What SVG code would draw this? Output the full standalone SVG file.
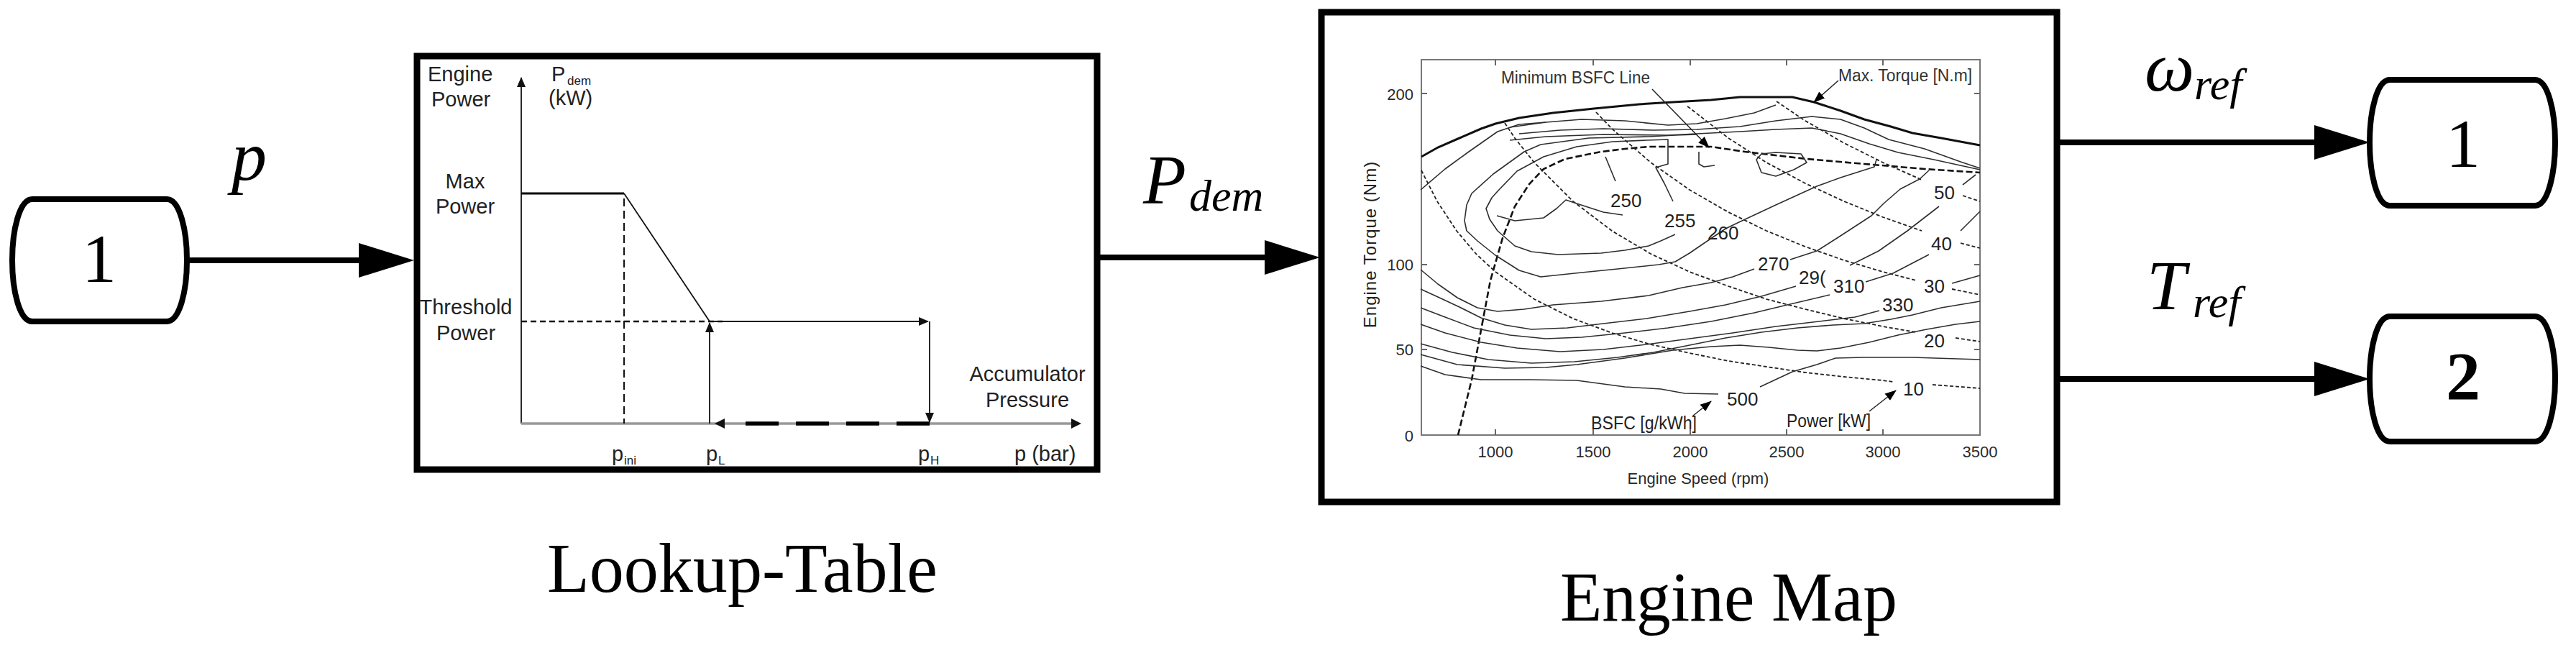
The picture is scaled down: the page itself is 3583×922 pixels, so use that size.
<svg xmlns="http://www.w3.org/2000/svg" width="3583" height="922" viewBox="0 0 3583 922">
<defs>
<style>
.blk{fill:#fff;stroke:#000;stroke-width:9}
.port{fill:#fff;stroke:#000;stroke-width:8}
.conn{stroke:#000;stroke-width:8;fill:none}
.ser{font-family:"Liberation Serif","Times New Roman",serif;fill:#000}
.it{font-style:italic}
.san{font-family:"Liberation Sans",Arial,sans-serif;fill:#222}
.lt{font-size:29px}
.ch{font-size:22px;fill:#2a2a2a}
.cl{font-size:26px;fill:#222}
.an{font-size:23px;fill:#333}
.ctr{fill:none;stroke:#2e2e2e;stroke-width:1.6;stroke-linejoin:round}
.pw{fill:none;stroke:#222;stroke-width:1.8;stroke-dasharray:5 3}
.thin{fill:none;stroke:#111;stroke-width:1.8}
</style>
<marker id="big" markerUnits="userSpaceOnUse" markerWidth="78" markerHeight="50" refX="0" refY="25" orient="auto">
<path d="M0,1 L77,25 L0,49 z" fill="#000"/>
</marker>
<marker id="sm" markerUnits="userSpaceOnUse" markerWidth="16" markerHeight="14" refX="15" refY="7" orient="auto">
<path d="M0,1 L16,7 L0,13 z" fill="#000"/>
</marker>
<marker id="ch" markerUnits="userSpaceOnUse" markerWidth="14" markerHeight="12" refX="13" refY="6" orient="auto">
<path d="M0,0 L14,6 L0,12 z" fill="#111"/>
</marker>
</defs>
<rect width="3583" height="922" fill="#fff"/>

<g id="connectors">
<line class="conn" x1="260" y1="362" x2="499" y2="362" marker-end="url(#big)"/>
<line class="conn" x1="1526" y1="358" x2="1759" y2="358" marker-end="url(#big)"/>
<line class="conn" x1="2862" y1="198" x2="3219" y2="198" marker-end="url(#big)"/>
<line class="conn" x1="2862" y1="527" x2="3219" y2="527" marker-end="url(#big)"/>
<text class="ser it" x="322" y="250" font-size="98">p</text>
<text class="ser it" x="1590" y="283" font-size="98">P<tspan x="1654" y="293" font-size="62">dem</tspan></text>
<text class="ser it" x="2983" y="126" font-size="98">ω<tspan x="3052" y="138" font-size="62">ref</tspan></text>
<text class="ser it" x="2986" y="430" font-size="98">T<tspan x="3050" y="441" font-size="62">ref</tspan></text>
</g>

<g id="in1">
<path class="port" d="M45,277 H232 C250,277 260,320 260,362 C260,404 250,447 232,447 H45 C27,447 17,404 17,362 C17,320 27,277 45,277 Z"/>
<text class="ser" x="138" y="392" font-size="96" text-anchor="middle">1</text>
</g>

<g id="out1">
<path class="port" d="M3324,111 H3526 C3544,111 3554,155 3554,198 C3554,241 3544,286 3526,286 H3324 C3306,286 3296,241 3296,198 C3296,155 3306,111 3324,111 Z"/>
<text class="ser" x="3426" y="232" font-size="96" text-anchor="middle">1</text>
</g>

<g id="out2">
<path class="port" d="M3324,440 H3526 C3544,440 3554,484 3554,527 C3554,570 3544,614 3526,614 H3324 C3306,614 3296,570 3296,527 C3296,484 3306,440 3324,440 Z"/>
<text class="ser" x="3426" y="556" font-size="96" font-weight="bold" text-anchor="middle">2</text>
</g>

<g id="lookup-table">
<rect class="blk" x="580" y="78" width="946" height="575"/>
<line x1="725" y1="589" x2="725" y2="108" stroke="#111" stroke-width="1.8" marker-end="url(#ch)"/>
<line x1="725" y1="589" x2="1492" y2="589" stroke="#999" stroke-width="3.5"/>
<path d="M1490,582 L1504,589 L1490,596 z" fill="#111"/>
<line x1="725" y1="269" x2="868" y2="269" stroke="#000" stroke-width="2.8"/>
<line x1="868" y1="269" x2="987" y2="447" stroke="#111" stroke-width="1.8"/>
<line x1="868" y1="276" x2="868" y2="589" stroke="#111" stroke-width="2" stroke-dasharray="11 6"/>
<line x1="725" y1="447" x2="1005" y2="447" stroke="#111" stroke-width="2.6" stroke-dasharray="8 5"/>
<line x1="987" y1="447" x2="1291" y2="447" class="thin" marker-end="url(#ch)"/>
<line x1="987" y1="589" x2="987" y2="449" class="thin" marker-end="url(#ch)"/>
<line x1="1293" y1="447" x2="1293" y2="587" class="thin" marker-end="url(#ch)"/>
<line x1="1293" y1="589" x2="1030" y2="589" stroke="#000" stroke-width="5.5" stroke-dasharray="46 24"/>
<path d="M1008,582 L994,589 L1008,596 z" fill="#111"/>
<text class="san lt" x="595" y="113">Engine</text>
<text class="san lt" x="600" y="148">Power</text>
<text class="san lt" x="767" y="113">P<tspan x="789" y="118" font-size="17">dem</tspan></text>
<text class="san lt" x="763" y="146">(kW)</text>
<text class="san lt" x="647" y="262" text-anchor="middle">Max</text>
<text class="san lt" x="647" y="297" text-anchor="middle">Power</text>
<text class="san lt" x="648" y="437" text-anchor="middle">Threshold</text>
<text class="san lt" x="648" y="473" text-anchor="middle">Power</text>
<text class="san lt" x="1429" y="530" text-anchor="middle">Accumulator</text>
<text class="san lt" x="1429" y="566" text-anchor="middle">Pressure</text>
<text class="san lt" x="851" y="641">p<tspan x="868" y="646" font-size="17">ini</tspan></text>
<text class="san lt" x="982" y="641">p<tspan x="999" y="646" font-size="17">L</tspan></text>
<text class="san lt" x="1277" y="641">p<tspan x="1294" y="646" font-size="17">H</tspan></text>
<text class="san lt" x="1411" y="641">p (bar)</text>
<text class="ser" x="761" y="823" font-size="98" textLength="543" lengthAdjust="spacingAndGlyphs">Lookup-Table</text>
</g>

<g id="engine-map">
<rect class="blk" x="1838" y="17" width="1023" height="681"/>
<rect x="1977" y="83" width="777" height="522" fill="none" stroke="#777" stroke-width="2"/>
<g stroke="#666" stroke-width="2">
<line x1="1977" y1="130" x2="1985" y2="130"/><line x1="1977" y1="368" x2="1985" y2="368"/><line x1="1977" y1="486" x2="1985" y2="486"/>
<line x1="2754" y1="130" x2="2746" y2="130"/><line x1="2754" y1="368" x2="2746" y2="368"/><line x1="2754" y1="486" x2="2746" y2="486"/>
<line x1="2080" y1="605" x2="2080" y2="597"/><line x1="2216" y1="605" x2="2216" y2="597"/><line x1="2351" y1="605" x2="2351" y2="597"/><line x1="2485" y1="605" x2="2485" y2="597"/><line x1="2619" y1="605" x2="2619" y2="597"/>
<line x1="2080" y1="83" x2="2080" y2="91"/><line x1="2216" y1="83" x2="2216" y2="91"/><line x1="2351" y1="83" x2="2351" y2="91"/><line x1="2485" y1="83" x2="2485" y2="91"/><line x1="2619" y1="83" x2="2619" y2="91"/>
</g>
<text class="san ch" x="1966" y="139" text-anchor="end">200</text>
<text class="san ch" x="1966" y="376" text-anchor="end">100</text>
<text class="san ch" x="1966" y="494" text-anchor="end">50</text>
<text class="san ch" x="1966" y="614" text-anchor="end">0</text>
<text class="san ch" x="2080" y="636" text-anchor="middle">1000</text>
<text class="san ch" x="2216" y="636" text-anchor="middle">1500</text>
<text class="san ch" x="2351" y="636" text-anchor="middle">2000</text>
<text class="san ch" x="2485" y="636" text-anchor="middle">2500</text>
<text class="san ch" x="2619" y="636" text-anchor="middle">3000</text>
<text class="san ch" x="2754" y="636" text-anchor="middle">3500</text>
<text class="san ch" x="2362" y="673" text-anchor="middle">Engine Speed (rpm)</text>
<text class="san" x="1914" y="340" font-size="24" fill="#6e5444" text-anchor="middle" transform="rotate(-90 1914 340)" letter-spacing="1">Engine Torque (Nm)</text>
<polyline fill="none" stroke="#111" stroke-width="3" points="1977,218 2000,205 2030,192 2060,179 2080,172 2113,164 2160,157 2217,151 2280,145 2327,142 2380,139 2420,135 2493,135 2523,142 2560,154 2593,166 2630,176 2660,185 2700,192 2754,202"/>
<polyline fill="none" stroke="#111" stroke-width="2.6" stroke-dasharray="9 4" points="2028,605 2047,528 2060,459 2073,390 2090,331 2107,287 2127,256 2147,235 2177,221 2227,211 2260,207 2293,204 2380,204 2427,211 2513,221 2593,228 2677,235 2754,240"/>
<polyline class="pw" points="1977,237 1999,280 2026,321 2053,353 2080,378 2134,416 2188,443 2242,463 2296,479 2350,491 2404,502 2457,510 2511,518 2565,524 2619,529 2633,531"/>
<polyline class="pw" points="2688,535 2754,540"/>
<polyline class="pw" points="2093,171 2107,192 2134,226 2188,280 2242,321 2296,353 2350,378 2404,398 2457,416 2511,430 2565,443 2619,454 2665,462"/>
<polyline class="pw" points="2720,470 2754,475"/>
<polyline class="pw" points="2220,156 2242,179 2296,226 2350,264 2404,295 2457,321 2511,343 2565,362 2619,378 2665,390"/>
<polyline class="pw" points="2715,402 2754,410"/>
<polyline class="pw" points="2347,148 2350,150 2404,192 2457,226 2511,255 2565,280 2619,302 2673,321"/>
<polyline class="pw" points="2727,338 2754,345"/>
<polyline class="pw" points="2471,141 2511,168 2565,199 2619,226 2673,250"/>
<polyline class="pw" points="2730,272 2754,280"/>
<polyline class="ctr" points="1976,264 2010,235 2043,211 2083,183 2113,173 2150,170"/>
<polyline class="ctr" points="2100,177 2150,170 2200,166 2260,168 2320,174 2360,172 2400,165 2440,157 2470,146"/>
<polyline class="ctr" points="2113,186 2170,181 2230,179 2300,181 2360,180 2420,176 2470,168 2520,162 2560,166 2593,178 2627,194 2677,207 2727,225 2754,234"/>
<polyline class="ctr" points="2100,195 2150,190 2230,187 2320,188 2360,186 2420,183 2470,180 2520,178 2560,186 2600,200 2640,212 2690,222 2754,236"/>
<polyline class="ctr" points="2082,300 2107,307 2147,303 2165,290 2178,278 2193,283 2230,295 2257,299"/>
<polyline class="ctr" points="2247,252 2240,235 2233,218"/>
<polyline class="ctr" points="2330,326 2310,335 2293,342 2260,348 2227,352 2167,354 2130,350 2107,342 2083,321 2072,305 2067,290 2075,275 2083,266 2110,238 2147,218 2193,204 2243,197 2290,195 2320,194 2320,228 2303,233 2315,255 2327,280"/>
<polyline class="ctr" points="2372,337 2350,352 2330,364 2307,368 2250,374 2200,379 2143,385 2113,376 2080,355 2055,335 2040,321 2037,307 2040,285 2047,269 2077,242 2120,211 2143,201 2210,192 2293,190 2330,188 2360,187"/>
<polyline class="ctr" points="2363,211 2363,228 2370,232 2385,230"/>
<polygon class="ctr" points="2443,222 2450,240 2470,245 2495,236 2513,226 2505,214 2470,212 2450,214"/>
<polyline class="ctr" points="2372,337 2400,318 2423,307 2470,285 2527,259 2560,247 2607,232 2610,222"/>
<polyline class="ctr" points="1976,375 2000,395 2027,414 2055,428 2083,433 2120,430 2160,424 2227,419 2293,411 2340,400 2380,393 2410,385 2440,374"/>
<polyline class="ctr" points="2490,361 2527,349 2560,328 2603,300 2620,283 2643,263 2670,249 2683,237"/>
<polyline class="ctr" points="1976,402 2000,413 2030,427 2060,442 2093,452 2130,458 2180,456 2230,450 2290,443 2350,433 2400,424 2450,412 2498,398"/>
<polyline class="ctr" points="2573,369 2613,349 2653,321 2697,287"/>
<polyline class="ctr" points="1976,428 2010,441 2050,456 2100,466 2150,471 2200,469 2260,463 2320,456 2380,447 2440,435 2490,423 2545,410"/>
<polyline class="ctr" points="2595,392 2633,380 2683,354"/>
<polyline class="ctr" points="1976,451 2010,463 2060,476 2110,484 2170,489 2230,486 2290,479 2350,471 2410,463 2470,454 2530,447 2580,441 2614,432"/>
<polyline class="ctr" points="2715,394 2754,383"/>
<polyline class="ctr" points="2727,321 2754,294"/>
<polyline class="ctr" points="2730,257 2748,243"/>
<polyline class="ctr" points="1976,478 2020,490 2070,500 2130,505 2190,503 2250,497 2300,490 2350,480 2400,470 2450,462 2500,456 2550,452 2593,450 2630,444 2660,438 2700,428 2754,419"/>
<polyline class="ctr" points="1976,493 2027,507 2093,512 2150,511 2193,507 2260,498 2327,487 2380,482 2420,480 2460,483 2500,487 2527,488 2560,484 2600,476 2640,466 2680,458 2720,451 2754,447"/>
<polyline class="ctr" points="1976,509 2010,521 2060,528 2127,528 2193,529 2260,538 2310,541 2343,547 2390,548"/>
<polyline class="ctr" points="2448,538 2493,517 2527,507 2553,498 2593,497 2660,497 2754,500"/>
<line x1="2298" y1="124" x2="2377" y2="205" stroke="#222" stroke-width="1.5" marker-end="url(#sm)"/>
<line x1="2557" y1="112" x2="2523" y2="142" stroke="#222" stroke-width="1.5" marker-end="url(#sm)"/>
<line x1="2355" y1="578" x2="2380" y2="558" stroke="#222" stroke-width="1.5" marker-end="url(#sm)"/>
<line x1="2600" y1="572" x2="2637" y2="543" stroke="#222" stroke-width="1.5" marker-end="url(#sm)"/>
<text class="san an" x="2088" y="116" textLength="207" lengthAdjust="spacingAndGlyphs">Minimum BSFC Line</text>
<text class="san an" x="2557" y="113" textLength="186" lengthAdjust="spacingAndGlyphs">Max. Torque [N.m]</text>
<text class="san cl" x="2213" y="597" textLength="147" lengthAdjust="spacingAndGlyphs">BSFC [g/kWh]</text>
<text class="san cl" x="2485" y="594" textLength="117" lengthAdjust="spacingAndGlyphs">Power [kW]</text>
<text class="san cl" x="2240" y="288">250</text>
<text class="san cl" x="2315" y="316">255</text>
<text class="san cl" x="2375" y="333">260</text>
<text class="san cl" x="2445" y="376">270</text>
<text class="san cl" x="2502" y="395">29(</text>
<text class="san cl" x="2550" y="407">310</text>
<text class="san cl" x="2618" y="433">330</text>
<text class="san cl" x="2402" y="564">500</text>
<text class="san cl" x="2690" y="277">50</text>
<text class="san cl" x="2686" y="348">40</text>
<text class="san cl" x="2676" y="407">30</text>
<text class="san cl" x="2676" y="483">20</text>
<text class="san cl" x="2647" y="550">10</text>
<text class="ser" x="2170" y="863" font-size="98" textLength="469" lengthAdjust="spacingAndGlyphs">Engine Map</text>
</g>
</svg>
